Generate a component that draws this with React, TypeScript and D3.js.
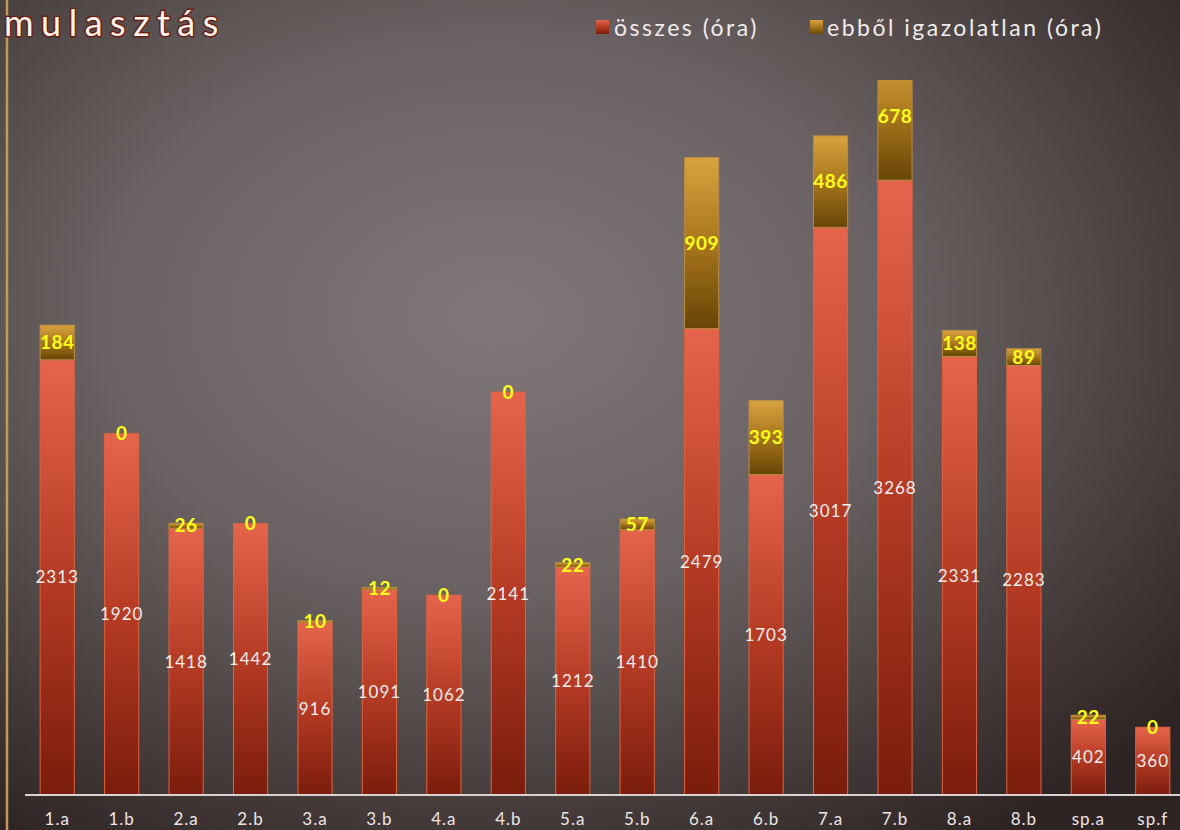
import React from 'react';
import * as d3 from 'd3';

// categories and values
const classes = ['1.a', '1.b', '2.a', '2.b', '3.a', '3.b', '4.a', '4.b', '5.a', '5.b', '6.a', '6.b', '7.a', '7.b', '8.a', '8.b', 'sp.a', 'sp.f'];
const totalHours = [2313, 1920, 1418, 1442, 916, 1091, 1062, 2141, 1212, 1410, 2479, 1703, 3017, 3268, 2331, 2283, 402, 360];
const unexcusedHours = [184, 0, 26, 0, 10, 12, 0, 0, 22, 57, 909, 393, 486, 678, 138, 89, 22, 0];
const legendLabels = ['összes (óra)', 'ebből igazolatlan (óra)'];
const yMax = 3800;

const W = 1180;
const H = 830;
const FONT = 'Lato, "Noto Sans", sans-serif';

export default function App() {
  const x = d3.scaleBand<string>().domain(classes).range([25, 1185]).paddingInner(0.47).paddingOuter(0.235);
  const y = d3.scaleLinear().domain([0, yMax]).range([795, 80]);
  const bw = x.bandwidth();

  return (
    <svg width={W} height={H} style={{ position: 'absolute', left: 0, top: 0, display: 'block' }}>
      <defs>
        <radialGradient id="bg" cx="0.42" cy="0.38" r="0.75">
          <stop offset="0" stopColor="#807878" />
          <stop offset="0.45" stopColor="#6a6262" />
          <stop offset="1" stopColor="#2f2424" />
        </radialGradient>
        <linearGradient id="redG" x1="0" y1="0" x2="0" y2="1">
          <stop offset="0" stopColor="#e4654b" />
          <stop offset="0.5" stopColor="#b63b24" />
          <stop offset="1" stopColor="#7a1c0c" />
        </linearGradient>
        <linearGradient id="goldG" x1="0" y1="0" x2="0" y2="1">
          <stop offset="0" stopColor="#d9a23f" />
          <stop offset="0.5" stopColor="#a8761c" />
          <stop offset="1" stopColor="#674506" />
        </linearGradient>
        <clipPath id="plot">
          <rect x={0} y={y(yMax)} width={W} height={y(0) - y(yMax)} />
        </clipPath>
      </defs>

      <rect x={0} y={0} width={W} height={H} fill="url(#bg)" />
      <line x1={7} x2={7} y1={0} y2={H} stroke="#c39a55" strokeWidth={2.5} />

      {/* title */}
      <text x={4} y={36} fill="#fbf5ee" stroke="#6a1e12" strokeWidth={3} paintOrder="stroke"
        style={{ fontFamily: FONT, fontSize: 36, letterSpacing: 7.5 }}>mulasztás</text>

      {/* legend */}
      <g style={{ fontFamily: FONT, fontSize: 23, letterSpacing: 2.5 }} fill="#f2ecea">
        <rect x={596} y={20} width={13} height={14} fill="url(#redG)" />
        <text x={614} y={36}>{legendLabels[0]}</text>
        <rect x={810} y={20} width={13} height={14} fill="url(#goldG)" />
        <text x={827} y={36}>{legendLabels[1]}</text>
      </g>

      {/* bars */}
      <g clipPath="url(#plot)">
        {classes.map((c, i) => {
          const x0 = x(c)!;
          const t = totalHours[i];
          const u = unexcusedHours[i];
          return (
            <g key={c}>
              <rect x={x0} y={y(t)} width={bw} height={y(0) - y(t)} fill="url(#redG)" stroke="#e0613f" strokeWidth={1} />
              {u > 0 && (
                <rect x={x0} y={y(t + u)} width={bw} height={y(t) - y(t + u)} fill="url(#goldG)" stroke="#b88c45" strokeWidth={1} />
              )}
            </g>
          );
        })}
      </g>

      {/* value labels */}
      {classes.map((c, i) => {
        const cx = x(c)! + bw / 2;
        const t = totalHours[i];
        const u = unexcusedHours[i];
        return (
          <g key={c + '-lbl'} textAnchor="middle" style={{ fontFamily: FONT }}>
            <text x={cx} y={(y(0) + y(t)) / 2} dy="0.35em" fill="#f4eeee" style={{ fontSize: 17, letterSpacing: 1 }}>{t}</text>
            <text x={cx} y={(y(t) + y(t + u)) / 2} dy="0.35em" fill="#ffff1a" style={{ fontSize: 19, fontWeight: 700, letterSpacing: 0.5 }}>{u}</text>
          </g>
        );
      })}

      {/* x axis */}
      <line x1={25} x2={W} y1={y(0)} y2={y(0)} stroke="#d8d2d2" strokeWidth={2} />
      {classes.map(c => (
        <text key={c + '-ax'} x={x(c)! + bw / 2} y={825} textAnchor="middle" fill="#ece6e6"
          style={{ fontFamily: FONT, fontSize: 17, letterSpacing: 1 }}>{c}</text>
      ))}
    </svg>
  );
}
